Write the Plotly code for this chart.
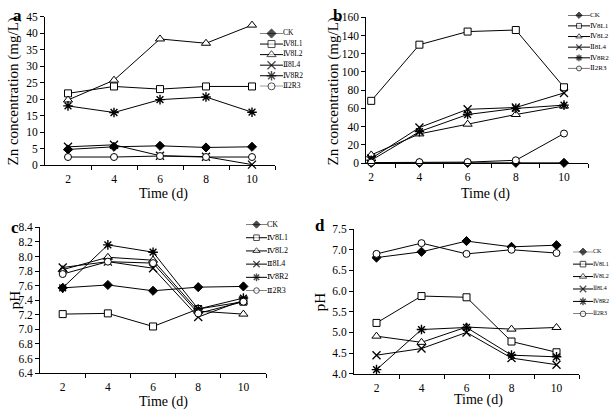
import plotly.graph_objects as go

W, H = 610, 416

time = [2, 4, 6, 8, 10]
series = ["CK", "Ⅳ8L1", "Ⅳ8L2", "Ⅱ8L4", "Ⅳ8R2", "Ⅱ2R3"]

# Panel a: Zn concentration (mg/L)
a_ck = [4.8, 5.6, 5.9, 5.4, 5.6]
a_iv8l1 = [21.8, 23.9, 23.1, 23.9, 23.9]
a_iv8l2 = [19.8, 25.8, 38.3, 37.0, 42.5]
a_ii8l4 = [5.6, 6.2, 2.9, 2.6, 0.2]
a_iv8r2 = [18.0, 16.0, 19.9, 20.7, 16.1]
a_ii2r3 = [2.5, 2.5, 2.8, 2.5, 2.5]

# Panel b: Zn concentration (mg/L)
b_ck = [0.2, 0.2, 0.2, 0.2, 0.2]
b_iv8l1 = [68.3, 130.0, 144.4, 146.1, 83.2]
b_iv8l2 = [8.9, 32.0, 42.7, 53.3, 62.6]
b_ii8l4 = [5.0, 39.0, 59.0, 61.0, 77.0]
b_iv8r2 = [3.0, 34.5, 53.3, 60.0, 63.6]
b_ii2r3 = [0.5, 1.0, 1.0, 3.0, 32.4]

# Panel c: pH
c_ck = [7.57, 7.61, 7.53, 7.58, 7.59]
c_iv8l1 = [7.21, 7.22, 7.04, 7.28, 7.38]
c_iv8l2 = [7.82, 7.99, 7.95, 7.25, 7.21]
c_ii8l4 = [7.85, 7.93, 7.84, 7.17, 7.40]
c_iv8r2 = [7.57, 8.16, 8.06, 7.28, 7.43]
c_ii2r3 = [7.76, 7.93, 7.91, 7.22, 7.38]

# Panel d: pH
d_ck = [6.81, 6.95, 7.21, 7.07, 7.11]
d_iv8l1 = [5.23, 5.88, 5.85, 4.78, 4.52]
d_iv8l2 = [4.91, 4.76, 5.13, 5.08, 5.12]
d_ii8l4 = [4.45, 4.61, 5.00, 4.38, 4.22]
d_iv8r2 = [4.10, 5.07, 5.12, 4.45, 4.41]
d_ii2r3 = [6.90, 7.16, 6.90, 7.00, 6.92]

panels = [
    dict(name="a", data=[a_ck, a_iv8l1, a_iv8l2, a_ii8l4, a_iv8r2, a_ii2r3],
         yrange=[0, 45], dtick=5, fmt="d", ytitle="Zn concentration (mg/L)"),
    dict(name="b", data=[b_ck, b_iv8l1, b_iv8l2, b_ii8l4, b_iv8r2, b_ii2r3],
         yrange=[0, 160], dtick=20, fmt="d", ytitle="Zn concentration (mg/L)"),
    dict(name="c", data=[c_ck, c_iv8l1, c_iv8l2, c_ii8l4, c_iv8r2, c_ii2r3],
         yrange=[6.4, 8.4], dtick=0.2, fmt=".1f", ytitle="pH"),
    dict(name="d", data=[d_ck, d_iv8l1, d_iv8l2, d_ii8l4, d_iv8r2, d_ii2r3],
         yrange=[4.0, 7.5], dtick=0.5, fmt=".1f", ytitle="pH"),
]

# layout geometry in pixels
geo = {
    "a": dict(x=(45, 275), xr=[1, 11], y=(11.2, 164.0), leg_x=(260, 283), leg_r=2.0,
              leg_y=(28.3, 82.7), leg_font=7.5, leg_ms=1.0,
              ytitle=(13, 88), xtitle=(163, 193.5), letter=(17, 10)),
    "b": dict(x=(366.4, 588.1), xr=[1.8, 11], y=(11.7, 161.7), leg_x=(568, 590), leg_r=1.8,
              leg_y=(9.5, 64.3), leg_font=7, leg_ms=0.7,
              ytitle=(333, 88), xtitle=(485, 193.5), letter=(337, 10)),
    "c": dict(x=(40.1, 266), xr=[1, 11], y=(228, 378), leg_x=(246, 267), leg_r=2.0,
              leg_y=(225, 293), leg_font=8, leg_ms=0.8,
              ytitle=(15, 303), xtitle=(163, 408), letter=(15, 228)),
    "d": dict(x=(354, 579), xr=[1, 11], y=(229.7, 378.7), leg_x=(573, 593), leg_r=1.8,
              leg_y=(253, 317), leg_font=6, leg_ms=0.8,
              ytitle=(320, 305), xtitle=(478, 406), letter=(320, 226)),
}

styles = [
    dict(symbol="diamond", color="black", line=dict(color="black", width=1), size=7),
    dict(symbol="square", color="white", line=dict(color="black", width=1), size=7),
    dict(symbol="triangle-up", color="white", line=dict(color="black", width=1), size=8),
    dict(symbol="x-thin-open", color="black", line=dict(color="black", width=1.3), size=8),
    dict(symbol="asterisk-open", color="black", line=dict(color="black", width=1.4), size=8),
    dict(symbol="circle", color="white", line=dict(color="black", width=1), size=7),
]

FONT = "Liberation Serif, Times New Roman, DejaVu Serif, serif"


def xd(p):
    return [p[0] / W, min(p[1] / W, 1.0)]


def yd(p):
    return [1 - p[1] / H, 1 - p[0] / H]


fig = go.Figure()
layout = dict(
    width=W, height=H, margin=dict(l=0, r=0, t=0, b=0),
    paper_bgcolor="white", plot_bgcolor="rgba(0,0,0,0)",
    showlegend=False, font=dict(family=FONT, color="black", size=11),
)
annotations = []

for i, p in enumerate(panels):
    g = geo[p["name"]]
    n = i + 1
    xa, ya = f"x{n}", f"y{n}"
    for k, vals in enumerate(p["data"]):
        st = styles[k]
        fig.add_trace(go.Scatter(
            x=time, y=vals, xaxis=xa, yaxis=ya, mode="lines+markers",
            name=series[k], cliponaxis=False,
            line=dict(color="black", width=1),
            marker=dict(symbol=st["symbol"], size=st["size"], color=st["color"],
                        line=st["line"]),
        ))
    layout[f"xaxis{n}"] = dict(
        domain=xd(g["x"]), anchor=ya, range=g["xr"], showgrid=False, zeroline=False,
        showline=True, linecolor="black", linewidth=1,
        tickmode="array", tickvals=time, ticktext=[str(t) for t in time],
        ticks="", tickfont=dict(size=11.5, family=FONT), ticklabelstandoff=3,
        minor=dict(tickmode="array", tickvals=[3, 5, 7, 9, 11], ticks="outside",
                   ticklen=4, tickcolor="black", tickwidth=1, showgrid=False),
    )
    layout[f"yaxis{n}"] = dict(
        domain=yd(g["y"]), anchor=xa, range=p["yrange"], showgrid=False, zeroline=False,
        showline=True, linecolor="black", linewidth=1,
        tickmode="linear", tick0=p["yrange"][0], dtick=p["dtick"], tickformat=p["fmt"],
        ticks="outside", ticklen=4, tickcolor="black", tickfont=dict(size=11.5, family=FONT),
    )
    # legend drawn on its own hidden axis pair: line sample spans x 0..1, label after it
    lx, ly = f"x{n + 4}", f"y{n + 4}"
    for k, name in enumerate(series):
        st = styles[k]
        fig.add_trace(go.Scatter(
            x=[0, 0.5, 1], y=[k, k, k], xaxis=lx, yaxis=ly, mode="lines+markers",
            cliponaxis=False, hoverinfo="skip",
            line=dict(color="black", width=1),
            marker=dict(symbol=st["symbol"], size=[0, st["size"] * g["leg_ms"], 0],
                        color=st["color"], line=st["line"]),
        ))
    fig.add_trace(go.Scatter(
        x=[1.0] * len(series), y=list(range(len(series))), xaxis=lx, yaxis=ly,
        mode="text", text=series, textposition="middle right", cliponaxis=False,
        textfont=dict(size=g["leg_font"], family=FONT, color="black"), hoverinfo="skip",
    ))
    x0, x1 = g["leg_x"]
    layout[f"xaxis{n + 4}"] = dict(domain=xd((x0, x0 + (x1 - x0) * g["leg_r"])), anchor=ly,
                                  range=[0, g["leg_r"]], visible=False)
    layout[f"yaxis{n + 4}"] = dict(domain=yd(g["leg_y"]), anchor=lx,
                                  range=[len(series) - 1, 0], visible=False)
    # titles
    annotations.append(dict(text=p["ytitle"], x=g["ytitle"][0] / W, y=1 - g["ytitle"][1] / H,
                            xref="paper", yref="paper", showarrow=False, textangle=-90,
                            font=dict(size=15, family=FONT), xanchor="center", yanchor="middle"))
    annotations.append(dict(text="Time (d)", x=g["xtitle"][0] / W, y=1 - g["xtitle"][1] / H,
                            xref="paper", yref="paper", showarrow=False,
                            font=dict(size=14, family=FONT), xanchor="center", yanchor="middle"))
    annotations.append(dict(text=f"<b>{p['name']}</b>", x=g["letter"][0] / W,
                            y=1 - g["letter"][1] / H, xref="paper", yref="paper",
                            showarrow=False, font=dict(size=17, family=FONT),
                            xanchor="center", yanchor="middle"))

layout["annotations"] = annotations
fig.update_layout(**layout)
fig.write_html("out.html", config={"displayModeBar": False},
               post_script="document.body.style.margin='0px';document.body.style.overflow='hidden';")
